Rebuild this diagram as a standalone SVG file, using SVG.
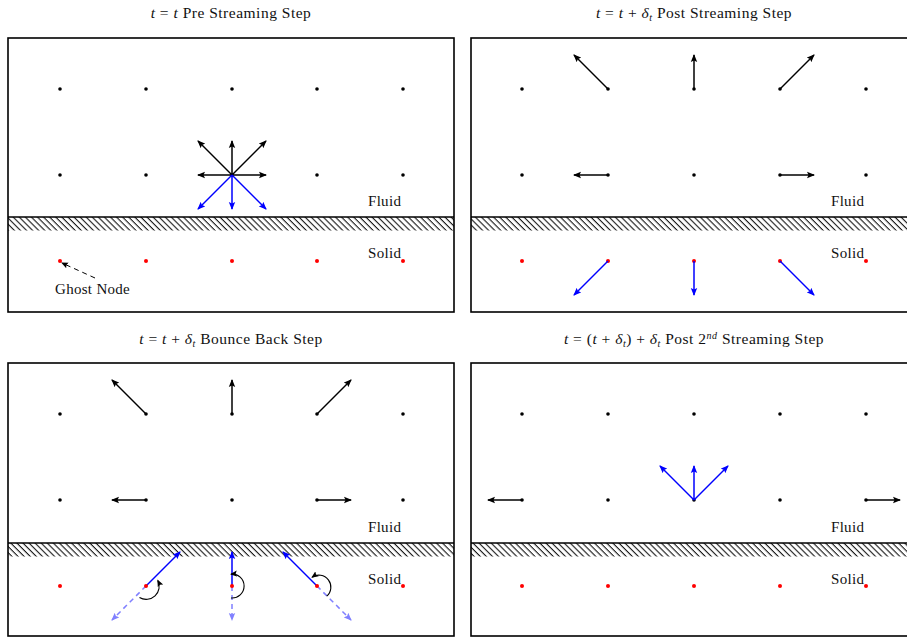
<svg xmlns="http://www.w3.org/2000/svg" width="907" height="637" viewBox="0 0 907 637">
<style>
text{font-family:"Liberation Serif","DejaVu Serif",serif;font-size:15px;fill:#111;letter-spacing:0.3px}
.title{font-size:15.5px;text-anchor:middle;letter-spacing:0.5px}
.box{fill:none;stroke:#000;stroke-width:1.6}
.wall{stroke:#000;stroke-width:1.6}
.k{stroke:#000;stroke-width:1.5;fill:none;marker-end:url(#ak)}
.b{stroke:#0000ff;stroke-width:1.5;fill:none;marker-end:url(#ab)}
.lb{stroke:#8080ff;stroke-width:1.5;fill:none;stroke-dasharray:5 4;marker-end:url(#alb)}
.arc{stroke:#000;stroke-width:1.1;fill:none;marker-end:url(#ak2)}
.n{fill:#000}
.r{fill:#ff0000}
</style>
<defs>
<marker id="ak" markerUnits="userSpaceOnUse" markerWidth="10" markerHeight="8" refX="7" refY="4" orient="auto"><path d="M0,0.8 L8,4 L0,7.2 L1.5,4 Z" fill="#000"/></marker>
<marker id="ak2" markerUnits="userSpaceOnUse" markerWidth="10" markerHeight="8" refX="6" refY="4" orient="auto"><path d="M0,1 L7,4 L0,7 L1.3,4 Z" fill="#000"/></marker>
<marker id="ab" markerUnits="userSpaceOnUse" markerWidth="10" markerHeight="8" refX="7" refY="4" orient="auto"><path d="M0,0.8 L8,4 L0,7.2 L1.5,4 Z" fill="#0000ff"/></marker>
<marker id="alb" markerUnits="userSpaceOnUse" markerWidth="10" markerHeight="8" refX="7" refY="4" orient="auto"><path d="M0,0.8 L8,4 L0,7.2 L1.5,4 Z" fill="#8080ff"/></marker>
<pattern id="hatch" patternUnits="userSpaceOnUse" width="4.3" height="8" patternTransform="rotate(-45)"><line x1="2" y1="-1" x2="2" y2="9" stroke="#000" stroke-width="1"/></pattern>
</defs>

<!-- Panel 1 -->
<g id="panel1">
<text class="title" x="231" y="18"><tspan font-style="italic">t</tspan> = <tspan font-style="italic">t</tspan> Pre Streaming Step</text>
<rect class="box" x="8" y="38" width="446" height="274"/>
<rect x="8" y="217" width="446" height="13.5" fill="url(#hatch)"/>
<line class="wall" x1="8" y1="217" x2="454" y2="217"/>
<text x="368" y="206">Fluid</text>
<text x="368" y="258">Solid</text>
<g id="p1-nodes">
<circle class="n" cx="60" cy="89" r="1.8"/><circle class="n" cx="146" cy="89" r="1.8"/><circle class="n" cx="232" cy="89" r="1.8"/><circle class="n" cx="317" cy="89" r="1.8"/><circle class="n" cx="403" cy="89" r="1.8"/>
<circle class="n" cx="60" cy="175" r="1.8"/><circle class="n" cx="146" cy="175" r="1.8"/><circle class="n" cx="232" cy="175" r="1.8"/><circle class="n" cx="317" cy="175" r="1.8"/><circle class="n" cx="403" cy="175" r="1.8"/>
<circle class="r" cx="60" cy="261" r="2"/><circle class="r" cx="146" cy="261" r="2"/><circle class="r" cx="232" cy="261" r="2"/><circle class="r" cx="317" cy="261" r="2"/><circle class="r" cx="403" cy="261" r="2"/>
</g>
<g id="p1-arrows">
<line class="k" x1="232" y1="175" x2="232" y2="141"/>
<line class="k" x1="232" y1="175" x2="198" y2="141"/>
<line class="k" x1="232" y1="175" x2="266" y2="141"/>
<line class="k" x1="232" y1="175" x2="198" y2="175"/>
<line class="k" x1="232" y1="175" x2="266" y2="175"/>
<line class="b" x1="232" y1="175" x2="232" y2="209"/>
<line class="b" x1="232" y1="175" x2="198" y2="209"/>
<line class="b" x1="232" y1="175" x2="266" y2="209"/>
<line x1="95" y1="278" x2="62" y2="263" stroke="#000" stroke-width="1" stroke-dasharray="5 4" marker-end="url(#ak2)"/>
</g>
<text x="55" y="294">Ghost Node</text>
</g>

<!-- Panel 2 -->
<g id="panel2">
<text class="title" x="694" y="18"><tspan font-style="italic">t</tspan> = <tspan font-style="italic">t</tspan> + <tspan font-style="italic">δ</tspan><tspan font-style="italic" font-size="10" dy="3">t</tspan><tspan dy="-3"> Post Streaming Step</tspan></text>
<rect class="box" x="471" y="38" width="446" height="274"/>
<rect x="471" y="217" width="446" height="13.5" fill="url(#hatch)"/>
<line class="wall" x1="471" y1="217" x2="917" y2="217"/>
<text x="831" y="206">Fluid</text>
<text x="831" y="258">Solid</text>
<g id="p2-nodes">
<circle class="n" cx="522" cy="89" r="1.8"/><circle class="n" cx="608" cy="89" r="1.8"/><circle class="n" cx="694" cy="89" r="1.8"/><circle class="n" cx="780" cy="89" r="1.8"/><circle class="n" cx="866" cy="89" r="1.8"/>
<circle class="n" cx="522" cy="175" r="1.8"/><circle class="n" cx="608" cy="175" r="1.8"/><circle class="n" cx="694" cy="175" r="1.8"/><circle class="n" cx="780" cy="175" r="1.8"/><circle class="n" cx="866" cy="175" r="1.8"/>
<circle class="r" cx="522" cy="261" r="2"/><circle class="r" cx="608" cy="261" r="2"/><circle class="r" cx="694" cy="261" r="2"/><circle class="r" cx="780" cy="261" r="2"/><circle class="r" cx="866" cy="261" r="2"/>
</g>
<g id="p2-arrows">
<line class="k" x1="608" y1="89" x2="574" y2="55"/>
<line class="k" x1="694" y1="89" x2="694" y2="55"/>
<line class="k" x1="780" y1="89" x2="814" y2="55"/>
<line class="k" x1="608" y1="175" x2="574" y2="175"/>
<line class="k" x1="780" y1="175" x2="814" y2="175"/>
<line class="b" x1="608" y1="261" x2="574" y2="295"/>
<line class="b" x1="694" y1="261" x2="694" y2="295"/>
<line class="b" x1="780" y1="261" x2="814" y2="295"/>
</g>
</g>

<!-- Panel 3 -->
<g id="panel3">
<text class="title" x="231" y="344"><tspan font-style="italic">t</tspan> = <tspan font-style="italic">t</tspan> + <tspan font-style="italic">δ</tspan><tspan font-style="italic" font-size="10" dy="3">t</tspan><tspan dy="-3"> Bounce Back Step</tspan></text>
<rect class="box" x="8" y="363" width="446" height="273"/>
<rect x="8" y="543" width="446" height="13.5" fill="url(#hatch)"/>
<line class="wall" x1="8" y1="543" x2="454" y2="543"/>
<text x="368" y="532">Fluid</text>
<text x="368" y="584">Solid</text>
<g id="p3-nodes">
<circle class="n" cx="60" cy="414" r="1.8"/><circle class="n" cx="146" cy="414" r="1.8"/><circle class="n" cx="232" cy="414" r="1.8"/><circle class="n" cx="317" cy="414" r="1.8"/><circle class="n" cx="403" cy="414" r="1.8"/>
<circle class="n" cx="60" cy="500" r="1.8"/><circle class="n" cx="146" cy="500" r="1.8"/><circle class="n" cx="232" cy="500" r="1.8"/><circle class="n" cx="317" cy="500" r="1.8"/><circle class="n" cx="403" cy="500" r="1.8"/>
</g>
<g id="p3-arrows">
<line class="lb" x1="146" y1="586" x2="112" y2="620"/>
<line class="lb" x1="232" y1="586" x2="232" y2="620"/>
<line class="lb" x1="317" y1="586" x2="351" y2="620"/>
<line class="b" x1="146" y1="586" x2="180" y2="552"/>
<line class="b" x1="232" y1="586" x2="232" y2="552"/>
<line class="b" x1="317" y1="586" x2="283" y2="552"/>
<line class="k" x1="146" y1="414" x2="112" y2="380"/>
<line class="k" x1="232" y1="414" x2="232" y2="380"/>
<line class="k" x1="317" y1="414" x2="351" y2="380"/>
<line class="k" x1="146" y1="500" x2="112" y2="500"/>
<line class="k" x1="317" y1="500" x2="351" y2="500"/>
<path class="arc" d="M139.5,597.5 A13,13 0 0 0 157.8,580.5"/>
<path class="arc" d="M231,598 A12,12 0 1 0 231,574.1"/>
<path class="arc" d="M326.7,596.2 A12,12 0 0 0 312.1,577.2"/>
</g>
<g id="p3-solid">
<circle class="r" cx="60" cy="586" r="2"/><circle class="r" cx="146" cy="586" r="2"/><circle class="r" cx="232" cy="586" r="2"/><circle class="r" cx="317" cy="586" r="2"/><circle class="r" cx="403" cy="586" r="2"/>
</g>
</g>

<!-- Panel 4 -->
<g id="panel4">
<text class="title" x="694" y="344"><tspan font-style="italic">t</tspan> = (<tspan font-style="italic">t</tspan> + <tspan font-style="italic">δ</tspan><tspan font-style="italic" font-size="10" dy="3">t</tspan><tspan dy="-3">) + </tspan><tspan font-style="italic">δ</tspan><tspan font-style="italic" font-size="10" dy="3">t</tspan><tspan dy="-3"> Post 2</tspan><tspan font-style="italic" font-size="10" dy="-5">nd</tspan><tspan dy="5"> Streaming Step</tspan></text>
<rect class="box" x="471" y="363" width="446" height="273"/>
<rect x="471" y="543" width="446" height="13.5" fill="url(#hatch)"/>
<line class="wall" x1="471" y1="543" x2="917" y2="543"/>
<text x="831" y="532">Fluid</text>
<text x="831" y="584">Solid</text>
<g id="p4-nodes">
<circle class="n" cx="522" cy="414" r="1.8"/><circle class="n" cx="608" cy="414" r="1.8"/><circle class="n" cx="694" cy="414" r="1.8"/><circle class="n" cx="780" cy="414" r="1.8"/><circle class="n" cx="866" cy="414" r="1.8"/>
<circle class="n" cx="522" cy="500" r="1.8"/><circle class="n" cx="608" cy="500" r="1.8"/><circle class="n" cx="694" cy="500" r="1.8"/><circle class="n" cx="780" cy="500" r="1.8"/><circle class="n" cx="866" cy="500" r="1.8"/>
<circle class="r" cx="522" cy="586" r="2"/><circle class="r" cx="608" cy="586" r="2"/><circle class="r" cx="694" cy="586" r="2"/><circle class="r" cx="780" cy="586" r="2"/><circle class="r" cx="866" cy="586" r="2"/>
</g>
<g id="p4-arrows">
<line class="k" x1="522" y1="500" x2="488" y2="500"/>
<line class="k" x1="866" y1="500" x2="900" y2="500"/>
<line class="b" x1="694" y1="500" x2="660" y2="466"/>
<line class="b" x1="694" y1="500" x2="694" y2="466"/>
<line class="b" x1="694" y1="500" x2="728" y2="466"/>
</g>
</g>
</svg>
